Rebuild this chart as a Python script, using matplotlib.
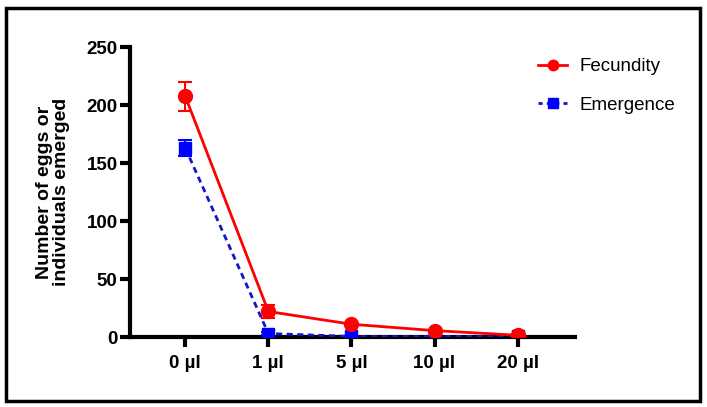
import numpy as np
import matplotlib
matplotlib.use('Agg')
from matplotlib import pyplot as plt
from matplotlib.patches import Rectangle
from matplotlib.lines import Line2D

plt.rcParams['font.family'] = ['Liberation Sans', 'DejaVu Sans']

### Data ###
doses = ['0 µl', '1 µl', '5 µl', '10 µl', '20 µl']
fecundity = [207.5, 22, 11, 5.5, 1.5]
fecundity_err = [12.5, 6, 0, 0, 0]
emergence = [163, 3, 0.5, 0.5, 0.5]
emergence_err = [7, 1.5, 0, 0, 0]

x = np.arange(len(doses))
red = '#ff0000'
blue_line = '#1414c8'
blue = '#0000ff'
dash = (0, (2.2, 1.6))

fig = plt.figure(figsize=(7.07, 4.07), dpi=100)
ax = fig.add_axes([130/707, 1 - 337/407, (575 - 130)/707, (337 - 47)/407])

# error bars first, then lines + markers on top
ax.errorbar(x, fecundity, yerr=fecundity_err, fmt='none', ecolor=red,
            capsize=5, capthick=1.5, elinewidth=1.5, zorder=3)
ax.errorbar(x, emergence, yerr=emergence_err, fmt='none', ecolor=blue,
            capsize=5, capthick=1.5, elinewidth=1.5, zorder=2)
ax.plot(x, fecundity, color=red, lw=2, marker='o', ms=10, zorder=4)
ax.plot(x, emergence, color=blue_line, ls=dash, lw=2, marker='s', ms=9,
        mfc=blue, mec=blue, zorder=3)

ax.set_xlim(-0.665, 4.69)
ax.set_ylim(0, 250)
ax.set_yticks([0, 50, 100, 150, 200, 250])
ax.set_xticks(x)
ax.set_xticklabels(doses)

for side in ['top', 'right']:
    ax.spines[side].set_visible(False)
for side in ['left', 'bottom']:
    ax.spines[side].set_linewidth(3)
ax.tick_params(width=3, length=7, labelsize=13.5, pad=2)
ax.get_xaxis().set_tick_params(pad=6)
for lab in ax.get_xticklabels() + ax.get_yticklabels():
    lab.set_fontweight('bold')
ax.set_ylabel('Number of eggs or\nindividuals emerged', fontsize=14, fontweight='bold',
              linespacing=1.0, labelpad=12)

handles = [Line2D([], [], color=red, lw=2, marker='o', ms=7.5),
           Line2D([], [], color=blue_line, ls=(0, (1.5, 1.5)), lw=2, marker='s', ms=7,
                  mfc=blue, mec=blue)]
ax.legend(handles, ['Fecundity', 'Emergence'], loc='upper left',
          bbox_to_anchor=(0.88, 1.02), frameon=False, fontsize=13.5,
          handlelength=1.5, labelspacing=1.15, handletextpad=0.7)

# black frame around the whole figure
fig.patches.append(Rectangle((6/707, 1 - 401/407), 694/707, 393/407, transform=fig.transFigure,
                             fill=False, edgecolor='black', lw=2.5))

fig.savefig('out.png', dpi=100)
